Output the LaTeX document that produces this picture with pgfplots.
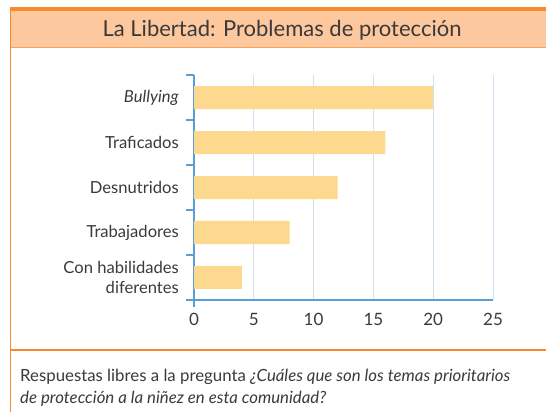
\documentclass[border=0pt]{standalone}
\usepackage{pgfplots}
\pgfplotsset{compat=1.18}
\usepackage{fontspec}
\setmainfont{Lato}
\definecolor{orangeB}{HTML}{F58A2E}
\definecolor{peach}{HTML}{FDC89E}
\definecolor{barc}{HTML}{FDD88F}
\definecolor{axb}{HTML}{5A9FD4}
\definecolor{gridb}{HTML}{CFE0F4}
\definecolor{txt}{HTML}{3A3A3A}
\begin{document}
\begin{tikzpicture}
\path[use as bounding box] (0,0) rectangle (546bp,412bp);
\fill[peach] (10bp,364bp) rectangle (546bp,402bp);
\fill[orangeB] (10bp,401bp) rectangle (546bp,405bp);
\draw[orangeB!80, line width=1bp] (10bp,364bp) -- (546bp,364bp);
\draw[orangeB, line width=1.3bp] (10.6bp,0bp) -- (10.6bp,405bp);
\draw[orangeB, line width=1.3bp] (10bp,62bp) -- (546bp,62bp);
\node[txt, font=\fontsize{22bp}{24bp}\selectfont] at (282bp,382bp) {La Libertad: Problemas de protección};
\node[txt, anchor=base west, inner sep=0pt, font=\fontsize{16.8bp}{18bp}\selectfont] at (20bp,31bp) {Respuestas libres a la pregunta \textit{¿Cuáles que son los temas prioritarios}};
\node[txt, anchor=base west, inner sep=0pt, font=\fontsize{16.8bp}{18bp}\selectfont] at (20bp,9bp) {\textit{de protección a la niñez en esta comunidad?}};
\begin{axis}[
  at={(194bp,112bp)}, anchor=south west,
  scale only axis, width=299bp, height=225bp,
  xmin=0, xmax=25, ymin=-0.5, ymax=4.5,
  axis x line*=bottom, axis y line*=left,
  axis line style={axb, line width=1.6bp, -},
  xtick={0,5,...,25},
  xmajorgrids, grid style={gridb, line width=1bp},
  major tick length=0pt,
  xtick style={draw=none},
  ytick={0,1,2,3,4},
  yticklabels={{Con habilidades\\diferentes},Trabajadores,Desnutridos,Traficados,\textit{Bullying}},
  yticklabel style={align=right, txt, font=\fontsize{16.6bp}{20bp}\selectfont, inner sep=0pt, xshift=-15bp},
  xticklabel style={txt, font=\fontsize{17bp}{19bp}\selectfont, yshift=-10bp},
  /pgf/number format/assume math mode=true,
  ytick style={draw=none},
  extra y ticks={-0.5,0.5,1.5,2.5,3.5,4.5},
  extra y tick labels={},
  extra y tick style={ytick style={draw=axb, line width=1.4bp}, major tick length=8bp, tick align=outside, grid=none},
  xbar, bar width=23bp,
  clip=false,
]
\addplot[fill=barc, draw=none, bar shift=0pt] coordinates {(4,0) (8,1) (12,2) (16,3) (20,4)};
\draw[axb, line width=1.6bp] (axis cs:0,-0.5) -- ++(0pt,-7bp);
\end{axis}
\end{tikzpicture}
\end{document}
